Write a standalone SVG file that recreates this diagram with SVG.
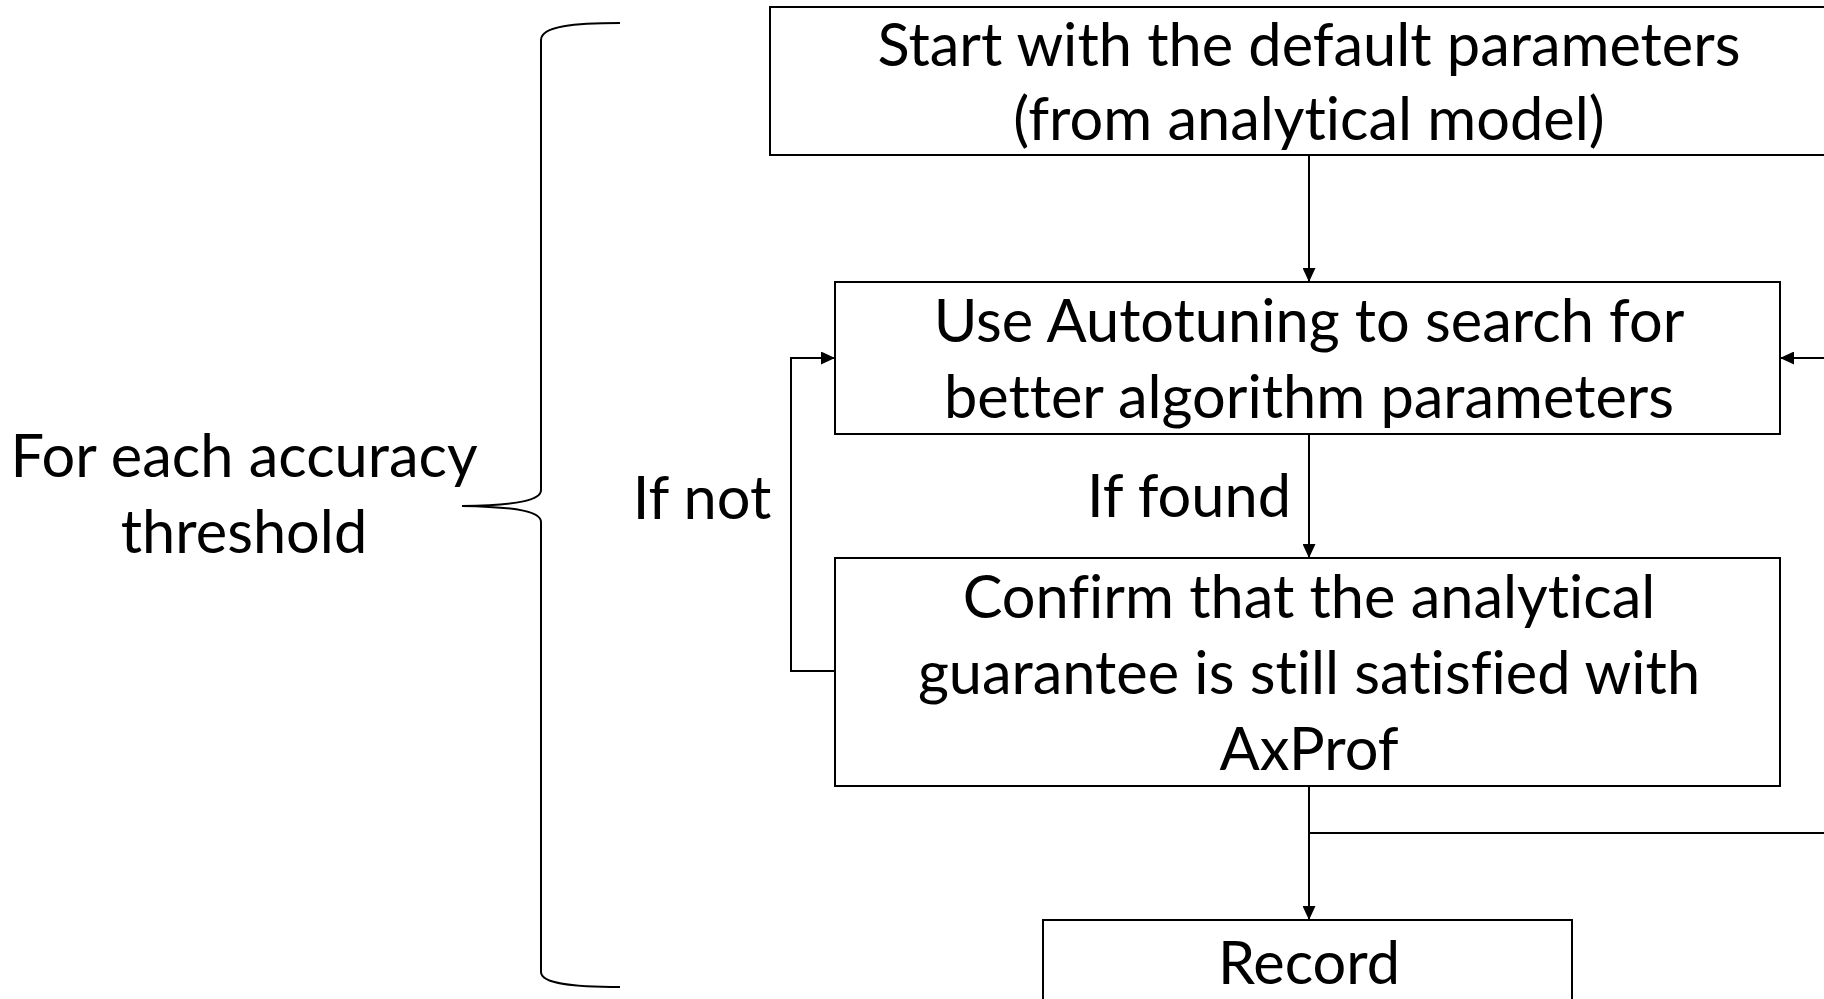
<svg xmlns="http://www.w3.org/2000/svg" width="1824" height="999" viewBox="0 0 1824 999">
<defs>
<marker id="ah" markerWidth="14" markerHeight="13" refX="14" refY="6.5" orient="auto" markerUnits="userSpaceOnUse">
<path d="M0,0 L14,6.5 L0,13 Z" fill="#000"/>
</marker>
<style>
.box{fill:#fff;stroke:#000;stroke-width:2}
.ln{fill:none;stroke:#000;stroke-width:2}
.t{font-family:Lato,"Open Sans",sans-serif;font-size:59.5px;fill:#000;text-anchor:middle;font-variant-ligatures:none}
</style>
</defs>
<rect width="1824" height="999" fill="#fff"/>
<g id="connectors">
<path class="ln" d="M1309,155 V282" marker-end="url(#ah)"/>
<path class="ln" d="M1309,434 V558" marker-end="url(#ah)"/>
<path class="ln" d="M1309,786 V920" marker-end="url(#ah)"/>
<path class="ln" d="M1309,833 H1824"/>
<path class="ln" d="M1824,358 H1780" marker-end="url(#ah)"/>
<path class="ln" d="M838,671 H791 V358 H835" marker-end="url(#ah)"/>
</g>
<g id="start">
<rect class="box" x="770" y="7" width="1100" height="148"/>
<text class="t" x="1309" y="66">Start with the default parameters</text>
<text class="t" x="1309" y="140">(from analytical model)</text>
</g>
<g id="autotune">
<rect class="box" x="835" y="282" width="945" height="152"/>
<text class="t" x="1309" y="342">Use Autotuning to search for</text>
<text class="t" x="1309" y="418">better algorithm parameters</text>
</g>
<g id="confirm">
<rect class="box" x="835" y="558" width="945" height="228"/>
<text class="t" x="1309" y="618">Confirm that the analytical</text>
<text class="t" x="1309" y="694">guarantee is still satisfied with</text>
<text class="t" x="1309" y="770">AxProf</text>
</g>
<g id="record">
<rect class="box" x="1043" y="920" width="529" height="120"/>
<text class="t" x="1309" y="984">Record</text>
</g>
<g id="label-found"><text class="t" x="1189" y="517">If found</text></g>
<g id="label-not"><text class="t" x="702" y="519">If not</text></g>
<g id="brace">
<path class="ln" d="M620,23 C575,23 541,26 541,40 L541,490 C541,500 520,505 462,506 C520,507 541,512 541,522 L541,972 C541,984 575,987 620,987"/>
<text class="t" x="244" y="477">For each accuracy</text>
<text class="t" x="244" y="553">threshold</text>
</g>
</svg>
